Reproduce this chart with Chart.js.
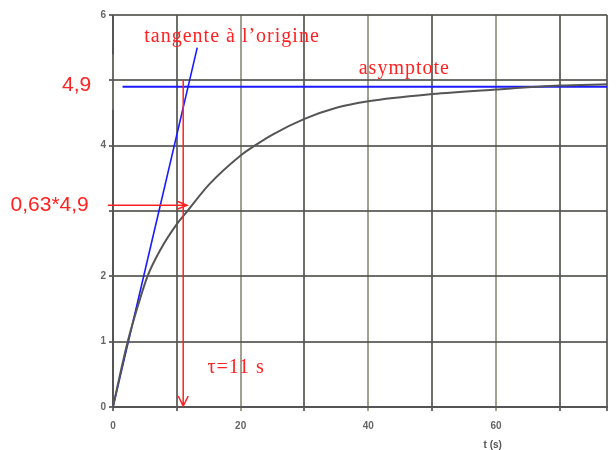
<!DOCTYPE html>
<html>
<head>
<meta charset="utf-8">
<script src="https://cdn.jsdelivr.net/npm/chart.js@4.4.1/dist/chart.umd.min.js"></script>
<style>
  html, body { margin: 0; padding: 0; background: #fff; }
  #chartCanvas { display: block; }
</style>
</head>
<body>
<canvas id="chartCanvas" width="616" height="450"></canvas>
<script>
// step response u(t), read point by point
const curveT = [0, 1, 2.3, 4, 5.4, 7.5, 10, 11.5, 15, 20, 22.2, 25, 30, 35, 40, 50, 60, 70, 77.4];
const curveV = [0, 0.45, 1.0, 1.58, 2.0, 2.42, 2.8, 2.98, 3.4, 3.85, 4.0, 4.17, 4.41, 4.58, 4.68, 4.79, 4.86, 4.92, 4.94];

// tangent at the origin
const tangentT = [0, 13.2];
const tangentV = [0, 5.5];

// asymptote
const asymT = [1.5, 77.4];
const finalValue = 4.9;

// time constant and 63 % level
const tau = 11;
const level63 = 0.63 * finalValue;

const xTickLabels = [0, 20, 40, 60];
const yTickLabels = [0, 1, 2, 4, 6];

const RED = '#ff2222';
const BLUE = '#1a1aff';

function pts(xs, ys) {
  return xs.map((x, i) => ({ x, y: ys[i] }));
}

// arrows, red labels and the hand-drawn y axis line
const notes = {
  id: 'notes',
  afterDatasetsDraw(chart) {
    const c = chart.ctx;
    const xs = chart.scales.x, ys = chart.scales.y;
    const px = v => xs.getPixelForValue(v);
    const py = v => ys.getPixelForValue(v);

    c.save();
    // y axis line, broken around the 4,9 level
    c.strokeStyle = '#555';
    c.lineWidth = 2;
    c.beginPath();
    c.moveTo(px(0), py(0)); c.lineTo(px(0), py(4.55));
    c.moveTo(px(0), py(5.4)); c.lineTo(px(0), py(6));
    c.stroke();

    c.strokeStyle = RED;
    c.lineWidth = 1.5;
    // vertical arrow down at t = tau
    c.beginPath();
    c.moveTo(px(tau), py(5.0));
    c.lineTo(px(tau), py(0) - 1);
    c.moveTo(px(tau) - 5, py(0) - 11);
    c.lineTo(px(tau), py(0) - 1);
    c.lineTo(px(tau) + 5, py(0) - 11);
    c.stroke();

    // horizontal arrow at 0,63*4,9
    const tipX = px(11.6), yy = py(level63);
    c.beginPath();
    c.moveTo(px(-0.8), yy);
    c.lineTo(tipX, yy);
    c.moveTo(tipX - 10, yy - 4);
    c.lineTo(tipX, yy);
    c.lineTo(tipX - 10, yy + 4);
    c.stroke();

    c.fillStyle = RED;
    c.textBaseline = 'middle';
    c.textAlign = 'left';
    c.letterSpacing = '1px';
    c.font = '20px "Liberation Serif"';
    c.fillText('tangente à l\u2019origine', px(4.9), py(5.67));
    c.fillText('asymptote', px(38.5), py(5.18));
    c.fillText('\u03c4=11 s', px(14.8), py(0.6));
    c.letterSpacing = '0px';

    c.font = '21px "Liberation Sans"';
    c.textAlign = 'right';
    c.fillText('4,9', px(-3.4), py(finalValue) - 2);
    c.fillText('0,63*4,9', px(-3.8), py(level63));

    // axis title
    c.fillStyle = '#555';
    c.font = 'bold 10px "Liberation Sans"';
    c.textAlign = 'center';
    c.fillText('t (s)', px(59.5), 445);
    c.restore();
  }
};

const gridColor = ctx => {
  const v = ctx.tick ? ctx.tick.value : 0;
  return (v % 20 === 0 && v !== 0) ? 'rgba(130,130,110,0.75)' : 'rgba(85,85,80,0.85)';
};

new Chart(document.getElementById('chartCanvas'), {
  type: 'scatter',
  data: {
    datasets: [
      {
        data: pts(curveT, curveV),
        showLine: true,
        borderColor: '#555',
        borderWidth: 2,
        pointRadius: 0,
        cubicInterpolationMode: 'monotone'
      },
      {
        data: pts(tangentT, tangentV),
        showLine: true,
        borderColor: BLUE,
        borderWidth: 1.6,
        pointRadius: 0,
        clip: false
      },
      {
        data: pts(asymT, [finalValue, finalValue]),
        showLine: true,
        borderColor: BLUE,
        borderWidth: 2,
        pointRadius: 0
      }
    ]
  },
  options: {
    responsive: false,
    animation: false,
    devicePixelRatio: 1,
    layout: { padding: { top: 15, right: 0, left: 0, bottom: 0 } },
    plugins: { legend: { display: false }, tooltip: { enabled: false } },
    scales: {
      x: {
        type: 'linear',
        min: 0,
        max: 77.4,
        afterFit: s => { s.height = 43; },
        border: { display: true, color: '#555', width: 2 },
        grid: { color: gridColor, lineWidth: 2, tickLength: 4 },
        ticks: {
          stepSize: 10,
          padding: 9,
          color: '#666',
          font: { family: 'Liberation Sans', size: 10, weight: 'bold' },
          callback: v => xTickLabels.includes(v) ? String(v) : ''
        }
      },
      y: {
        type: 'linear',
        min: 0,
        max: 6,
        afterFit: s => { s.width = 113; },
        border: { display: false },
        grid: { color: gridColor, lineWidth: 2, tickLength: 4 },
        ticks: {
          stepSize: 1,
          padding: 3,
          color: '#666',
          font: { family: 'Liberation Sans', size: 10, weight: 'bold' },
          callback: v => yTickLabels.includes(v) ? String(v) : ''
        }
      }
    }
  },
  plugins: [notes]
});
</script>
</body>
</html>
